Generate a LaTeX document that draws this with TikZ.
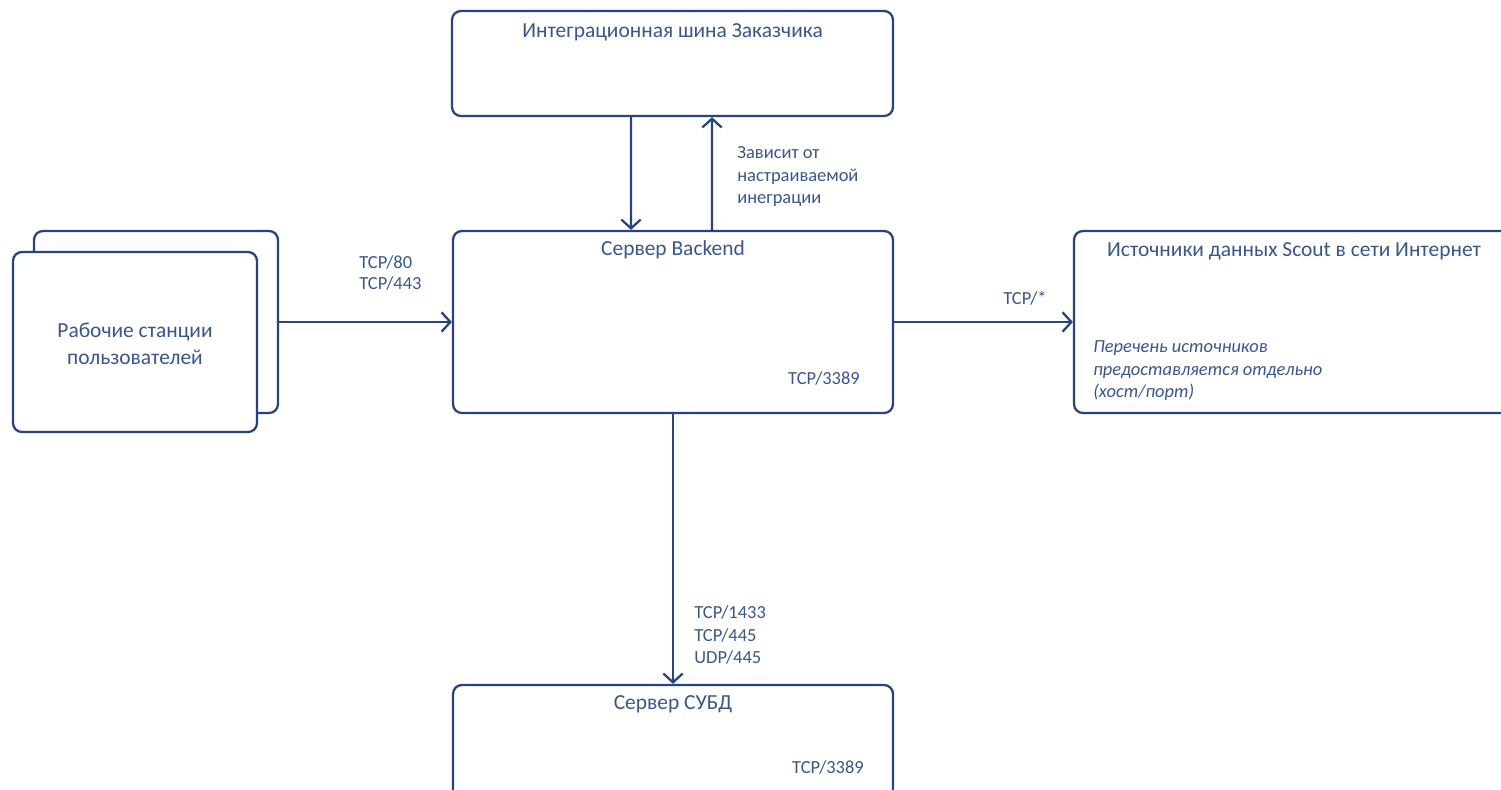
\documentclass[tikz,border=0pt]{standalone}
\usepackage{fontspec}
\setmainfont{Carlito}
\usepackage{tikz}
\usetikzlibrary{arrows.meta}

\definecolor{inkline}{RGB}{40,68,122}
\definecolor{inktext}{RGB}{58,86,138}

\tikzset{
    sysbox/.style={draw=inkline, fill=white, line width=1.3pt, rounded corners=5pt, inner sep=0pt},
    boxtitle/.style={text=inktext, font=\fontsize{12.2}{15}\selectfont, inner sep=0pt},
    portlabel/.style={text=inktext, font=\fontsize{10.5}{13}\selectfont, align=left, inner sep=0pt},
    flow/.style={draw=inkline, line width=1.3pt, -{Straight Barb[length=5pt,width=11pt]}}
}

\begin{document}
\begin{tikzpicture}[x=0.02cm, y=-0.02cm]
    \path [use as bounding box, clip] (0,0) rectangle (1501,789);
    % boxes
    \node [sysbox, minimum width=8.82cm, minimum height=2.1cm] (bus) at (672.5,63.5) {};
    \node [sysbox, minimum width=8.8cm, minimum height=3.64cm] (backend) at (673,322) {};
    \node [sysbox, minimum width=4.88cm, minimum height=3.64cm] (wsback) at (156,322) {};
    \node [sysbox, minimum width=4.88cm, minimum height=3.6cm] (ws) at (135,342) {};
    \node [sysbox, minimum width=8.8cm, minimum height=3.64cm] (scout) at (1294,322) {};
    \node [sysbox, minimum width=8.8cm, minimum height=3.64cm] (dbms) at (673,776) {};
    % texts inside boxes
    \node [boxtitle] (bustitle) at ([yshift=-0.44cm]bus.north) {Интеграционная шина Заказчика};
    \node [boxtitle] (backendtitle) at ([yshift=-0.4cm]backend.north) {Сервер Backend};
    \node [portlabel] (backendrdp) at (824,378) {TCP/3389};
    \node [boxtitle, align=center, font=\fontsize{12.2}{15.3}\selectfont] (wstitle) at (135,344) {Рабочие станции\\пользователей};
    \node [boxtitle] (scouttitle) at ([yshift=-0.42cm]scout.north) {Источники данных Scout в сети Интернет};
    \node [portlabel, anchor=north west, font=\fontsize{10.5}{13}\selectfont\itshape] (scoutnote) at (1093,340) {Перечень источников\\предоставляется отдельно\\(хост/порт)};
    \node [boxtitle] (dbmstitle) at ([yshift=-0.4cm]dbms.north) {Сервер СУБД};
    \node [portlabel] (dbmsrdp) at (828,767) {TCP/3389};
    % connectors
    \draw [flow] ([xshift=-0.83cm]bus.south) -- ([xshift=-0.84cm]backend.north);
    \draw [flow] ([xshift=0.78cm]backend.north) -- ([xshift=0.79cm]bus.south);
    \draw [flow] (wsback.east) -- (backend.west);
    \draw [flow] (backend.east) -- (scout.west);
    \draw [flow] (backend.south) -- (dbms.north);
    % connector labels
    \node [portlabel, anchor=north west] (lblintegr) at (737,146) {Зависит от\\настраиваемой\\инеграции};
    \node [portlabel, anchor=north west, font=\fontsize{10.5}{12.2}\selectfont] (lblhttp) at (359,255) {TCP/80\\TCP/443};
    \node [portlabel] (lblany) at (1025,298) {TCP/*};
    \node [portlabel, anchor=north west] (lbldb) at (694,605) {TCP/1433\\TCP/445\\UDP/445};
\end{tikzpicture}
\end{document}
